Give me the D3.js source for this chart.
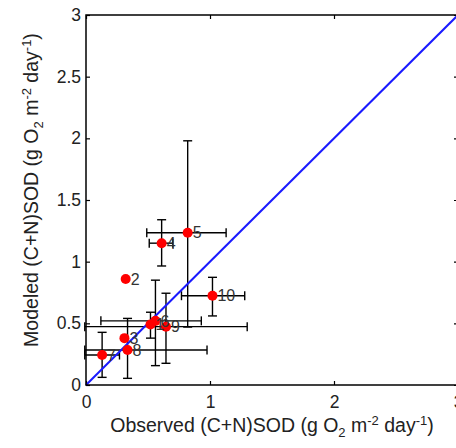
<!DOCTYPE html>
<html>
<head>
<meta charset="utf-8">
<script src="https://cdn.jsdelivr.net/npm/d3@7"></script>
<style>
  body { margin: 0; background: #fff; }
  svg { display: block; font-family: "Liberation Sans", Arial, sans-serif; }
</style>
</head>
<body>
<svg width="456" height="448"></svg>
<script>
// point labels and values (g O2 m-2 day-1)
const labels = ["1", "2", "3", "4", "5", "6", "7", "8", "9", "10"];
const observed = [0.52, 0.32, 0.31, 0.61, 0.82, 0.56, 0.13, 0.335, 0.645, 1.02];
const modeled  = [0.49, 0.86, 0.38, 1.15, 1.235, 0.52, 0.243, 0.284, 0.473, 0.724];
// error bar ranges, null = none
const obsLow  = [null, null, null, 0.51, 0.49, 0.12, -0.01, -0.01, -0.01, 0.77];
const obsHigh = [null, null, null, 0.70, 1.13, 0.93, 0.27, 0.976, 1.30, 1.28];
const modLow  = [0.38, null, null, 0.965, 0.47, 0.157, 0.062, 0.054, 0.176, 0.56];
const modHigh = [0.59, null, null, 1.34, 1.98, 0.85, 0.427, 0.54, 0.744, 0.873];
const xTicks = [0, 1, 2, 3];
const yTicks = [0, 0.5, 1, 1.5, 2, 2.5, 3];
const oneToOne = [0, 3];

const svg = d3.select("svg");
const m = { left: 86, right: 458, top: 15, bottom: 385 };

const x = d3.scaleLinear().domain([0, 3]).range([m.left, m.right]);
const y = d3.scaleLinear().domain([0, 3]).range([m.bottom, m.top]);

const data = labels.map((l, i) => ({
  label: l, ox: observed[i], my: modeled[i],
  xlo: obsLow[i], xhi: obsHigh[i], ylo: modLow[i], yhi: modHigh[i]
}));

// axes with inward ticks
const tickFont = g => g.selectAll("text").style("font-size", "17.5px").attr("fill", "#222");
svg.append("g").attr("transform", `translate(0,${m.bottom})`)
  .call(d3.axisBottom(x).tickValues(xTicks).tickFormat(d3.format("d")).tickSize(-4).tickPadding(11))
  .call(g => g.select(".domain").remove())
  .call(tickFont);
svg.append("g").attr("transform", `translate(0,${m.top})`)
  .call(d3.axisTop(x).tickValues(xTicks).tickFormat("").tickSize(-4))
  .call(g => g.select(".domain").remove());
svg.append("g").attr("transform", `translate(${m.left},0)`)
  .call(d3.axisLeft(y).tickValues(yTicks).tickFormat(d3.format("")).tickSize(-4).tickPadding(5))
  .call(g => g.select(".domain").remove())
  .call(tickFont);
svg.append("g").attr("transform", `translate(${m.right},0)`)
  .call(d3.axisRight(y).tickValues(yTicks).tickFormat("").tickSize(-4))
  .call(g => g.select(".domain").remove());

svg.selectAll(".tick line").attr("stroke", "#000").attr("stroke-width", 1.2);

// error bars
const eb = svg.append("g").attr("stroke", "#000").attr("stroke-width", 1.4).attr("fill", "none");
const cap = 4.5;
data.filter(d => d.ylo !== null).forEach(d => {
  eb.append("line").attr("x1", x(d.ox)).attr("x2", x(d.ox)).attr("y1", y(d.ylo)).attr("y2", y(d.yhi));
  [d.ylo, d.yhi].forEach(v => eb.append("line")
    .attr("x1", x(d.ox) - cap).attr("x2", x(d.ox) + cap).attr("y1", y(v)).attr("y2", y(v)));
});
data.filter(d => d.xlo !== null).forEach(d => {
  eb.append("line").attr("x1", x(d.xlo)).attr("x2", x(d.xhi)).attr("y1", y(d.my)).attr("y2", y(d.my));
  [d.xlo, d.xhi].forEach(v => eb.append("line")
    .attr("x1", x(v)).attr("x2", x(v)).attr("y1", y(d.my) - cap).attr("y2", y(d.my) + cap));
});

// 1:1 line
svg.append("line")
  .attr("x1", x(oneToOne[0])).attr("y1", y(oneToOne[0]))
  .attr("x2", x(oneToOne[1])).attr("y2", y(oneToOne[1]))
  .attr("stroke", "#1a1aff").attr("stroke-width", 2);

// points
svg.append("g").selectAll("circle")
  .data(data)
  .join("circle")
  .attr("cx", d => x(d.ox))
  .attr("cy", d => y(d.my))
  .attr("r", 5)
  .attr("fill", "#ff0000");

// point labels
svg.append("g").selectAll("text")
  .data(data)
  .join("text")
  .attr("x", d => x(d.ox) + 5)
  .attr("y", d => y(d.my))
  .attr("dy", "0.36em")
  .style("font-size", "16px")
  .attr("fill", "#333")
  .text(d => d.label);

// box
svg.append("rect")
  .attr("x", m.left).attr("y", m.top)
  .attr("width", m.right - m.left).attr("height", m.bottom - m.top)
  .attr("fill", "none").attr("stroke", "#000").attr("stroke-width", 1.5);

// axis labels
function unitLabel(sel, prefix) {
  sel.append("tspan").text(prefix + " (g O");
  sel.append("tspan").attr("dy", 5).style("font-size", "13px").text("2");
  sel.append("tspan").attr("dy", -5).text(" m");
  sel.append("tspan").attr("dy", -7).style("font-size", "13px").text("-2");
  sel.append("tspan").attr("dy", 7).text(" day");
  sel.append("tspan").attr("dy", -7).style("font-size", "13px").text("-1");
  sel.append("tspan").attr("dy", 7).text(")");
}

svg.append("text")
  .attr("x", (m.left + m.right) / 2)
  .attr("y", 432)
  .attr("text-anchor", "middle")
  .style("font-size", "19.5px")
  .attr("fill", "#222")
  .call(unitLabel, "Observed (C+N)SOD");

svg.append("text")
  .attr("transform", `translate(38,${(m.top + m.bottom) / 2 - 10}) rotate(-90)`)
  .attr("text-anchor", "middle")
  .style("font-size", "19.5px")
  .attr("fill", "#222")
  .call(unitLabel, "Modeled (C+N)SOD");
</script>
</body>
</html>
